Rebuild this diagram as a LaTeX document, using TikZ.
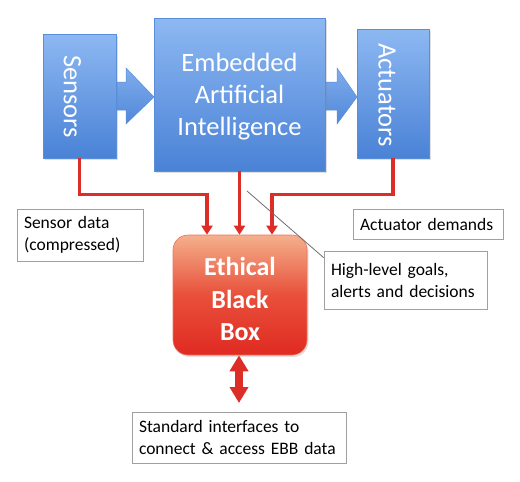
\documentclass[tikz,border=0pt]{standalone}
\usepackage{fontspec}
\setmainfont{Carlito}
\usetikzlibrary{arrows.meta,shadows,calc}
\definecolor{bluetop}{HTML}{8DB8F2}
\definecolor{bluebot}{HTML}{4A82D6}
\definecolor{blueedge}{HTML}{5A8ED8}
\definecolor{ebbtop}{HTML}{F4B08C}
\definecolor{ebbmid}{HTML}{E8503A}
\definecolor{ebbbot}{HTML}{E02A22}
\definecolor{redln}{HTML}{DC2E26}
\definecolor{boxedge}{HTML}{A0A0A0}
\tikzset{
  bluebox/.style={draw=blueedge, line width=0.6pt, top color=bluetop, bottom color=bluebot, inner sep=0pt,
    drop shadow={opacity=0.25, shadow xshift=1.5pt, shadow yshift=-2pt}},
  bluearrow/.style={draw=blueedge, line width=0.5pt, top color=bluetop!80!bluebot, bottom color=bluebot!90!bluetop},
  bigtext/.style={text=white, font=\fontsize{26.5}{32}\selectfont, align=center},
  ebbbox/.style={draw=ebbmid!80!white, line width=0.6pt, rounded corners=15pt, inner sep=0pt,
    shading=axis, top color=ebbtop, bottom color=ebbbot, middle color=ebbmid,
    drop shadow={opacity=0.25, shadow xshift=1.5pt, shadow yshift=-2pt}},
  redline/.style={draw=redln, line width=3.6pt, -{Triangle[width=11pt,length=9pt]}},
  labelbox/.style={draw=boxedge, line width=0.7pt, fill=white, inner sep=0pt, align=left,
    font=\fontsize{17.5}{22}\selectfont},
}
\begin{document}
\begin{tikzpicture}[x=1pt,y=-1pt]
\useasboundingbox (0,0) rectangle (520,482);
% block arrows
\path[bluearrow] (115,82) -- (126,82) -- (126,68) -- (154,97) -- (126,124) -- (126,110) -- (115,110) -- cycle;
\path[bluearrow] (324,82) -- (337,82) -- (337,68) -- (357,97) -- (337,124) -- (337,110) -- (324,110) -- cycle;
% blue boxes
\node[bluebox, minimum width=73pt, minimum height=124pt] (sensors) at (79.5,96) {};
\node[bluebox, minimum width=171pt, minimum height=153pt] (eai) at (239.5,94.5) {};
\node[bluebox, minimum width=72pt, minimum height=129pt] (act) at (393,93.5) {};
\node[bigtext, rotate=-90] (senstxt) at ($(sensors.center)+(-7,0.5)$) {Sensors};
\node[bigtext] (eaitxt) at ($(eai.center)+(0,2)$) {Embedded\\Artificial\\Intelligence};
\node[bigtext, rotate=-90] (acttxt) at ($(act.center)+(-6,1.5)$) {Actuators};
% EBB
\node[ebbbox, minimum width=134pt, minimum height=120pt] (ebb) at (240,295) {};
\node[bigtext, font=\bfseries\fontsize{26}{32.5}\selectfont] (ebbtxt) at ($(ebb.center)+(0,4)$) {Ethical\\Black\\Box};
% red connectors
\draw[redline] (sensors.south) -- ++(0,36) -| ([xshift=-33pt]ebb.north);
\draw[redline] (eai.south) -- (ebb.north -| eai.south);
\draw[redline] (act.south) -- ++(0,36) -| ([xshift=32pt]ebb.north);
% double arrow
\coordinate (dend) at (239,403);
\draw[draw=redln, line width=8pt, {Triangle[width=18pt,length=16pt]}-{Triangle[width=18pt,length=16pt]}] (ebb.south -| dend) -- (dend);
% labels
\node[labelbox, minimum width=126pt, minimum height=52pt, text width=112pt] (sdata) at (80,235) {Sensor data\\(compressed)};
\node[labelbox, minimum width=150pt, minimum height=30pt, text width=136pt] (adem) at (428,224) {Actuator demands};
\node[labelbox, minimum width=163pt, minimum height=58pt, text width=149pt] (goals) at (405.5,280) {High-level goals,\\alerts and decisions};
\node[labelbox, minimum width=214pt, minimum height=51pt, text width=200pt] (std) at (239,437.5) {Standard interfaces to\\connect \& access EBB data};
% leader
\coordinate (gp) at (247,191);
\draw[draw=gray!85!black, line width=0.8pt] ([yshift=-7pt]goals.north west) -- (gp);
\end{tikzpicture}
\end{document}
